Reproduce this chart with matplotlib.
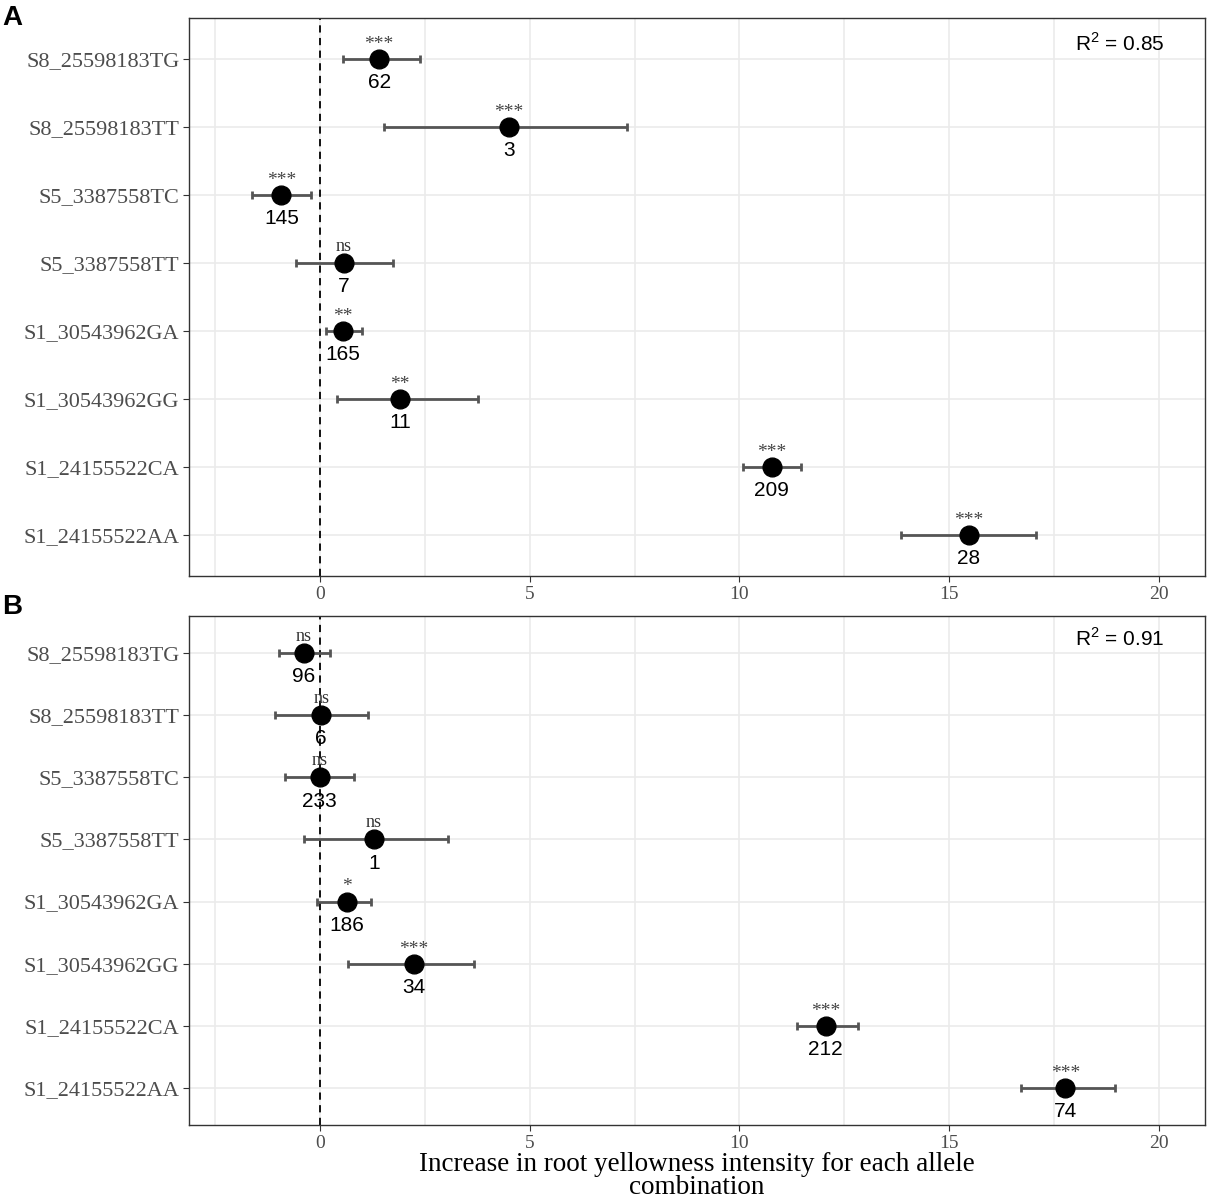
import matplotlib.pyplot as plt
from matplotlib.ticker import MultipleLocator

# datos
snps = ['S8_25598183TG', 'S8_25598183TT', 'S5_3387558TC', 'S5_3387558TT',
        'S1_30543962GA', 'S1_30543962GG', 'S1_24155522CA', 'S1_24155522AA']

est_a = [1.41, 4.51, -0.92, 0.57, 0.55, 1.91, 10.77, 15.47]
low_a = [0.54, 1.52, -1.63, -0.56, 0.14, 0.40, 10.08, 13.85]
high_a = [2.38, 7.32, -0.22, 1.74, 1.00, 3.77, 11.47, 17.07]
sig_a = ['***', '***', '***', 'ns', '**', '**', '***', '***']
n_a = [62, 3, 145, 7, 165, 11, 209, 28]

est_b = [-0.38, 0.03, -0.01, 1.29, 0.64, 2.24, 12.06, 17.77]
low_b = [-0.98, -1.06, -0.84, -0.38, -0.07, 0.67, 11.37, 16.71]
high_b = [0.24, 1.15, 0.82, 3.06, 1.22, 3.67, 12.82, 18.96]
sig_b = ['ns', 'ns', 'ns', 'ns', '*', '***', '***', '***']
n_b = [96, 6, 233, 1, 186, 34, 212, 74]

r2 = ['0.85', '0.91']

serif = 'Liberation Serif'
sans = 'Liberation Sans'

plt.rcParams['mathtext.fontset'] = 'custom'
plt.rcParams['mathtext.rm'] = sans

fig = plt.figure(figsize=(12.08, 11.98), dpi=100)
ax_a = fig.add_axes([0.1565, 0.5192, 0.841, 0.4658])
ax_b = fig.add_axes([0.1565, 0.0609, 0.841, 0.4249])


def panel(ax, est, low, high, sig, n, r2txt):
    y = list(range(len(snps)))
    xerr = [[e - l for e, l in zip(est, low)], [h - e for e, h in zip(est, high)]]
    ax.errorbar(est, y, xerr=xerr, fmt='o', color='black', ms=13.5,
                ecolor='#555555', elinewidth=2.0, capsize=3, capthick=2.0,
                zorder=3)
    ax.axvline(0, color='black', ls=(0, (4, 3)), lw=1.3, zorder=2)
    for xi, yi, s, k in zip(est, y, sig, n):
        if s == 'ns':
            ax.annotate(s, (xi, yi), xytext=(0, 12), textcoords='offset points',
                        ha='center', va='center', fontsize=13, family=serif,
                        color='#333333')
        else:
            ax.annotate(s, (xi, yi), xytext=(0, 10.5), textcoords='offset points',
                        ha='center', va='center', fontsize=14, family=serif,
                        color='#444444')
        ax.annotate(str(k), (xi, yi), xytext=(0, -17), textcoords='offset points',
                    ha='center', va='center', fontsize=15, family=sans,
                    color='black')
    ax.set_xlim(-3.12, 21.1)
    ax.set_ylim(len(snps) - 0.4, -0.6)
    ax.set_yticks(y)
    ax.set_yticklabels(snps, family=serif, fontsize=16, color='#4d4d4d')
    ax.xaxis.set_major_locator(MultipleLocator(5))
    ax.xaxis.set_minor_locator(MultipleLocator(2.5))
    for lab in ax.get_xticklabels():
        lab.set_family(serif)
        lab.set_fontsize(14)
        lab.set_color('#4d4d4d')
    ax.tick_params(axis='both', length=4, color='#333333', width=0.8, pad=3)
    ax.tick_params(axis='x', which='minor', length=0)
    ax.grid(True, which='both', color='#ebebeb', lw=1.2, zorder=0)
    ax.set_axisbelow(True)
    for sp in ax.spines.values():
        sp.set_color('#333333')
        sp.set_linewidth(1.0)
    ax.text(0.96, 0.955, r'R$^2$ = ' + r2txt, transform=ax.transAxes,
            ha='right', va='center', fontsize=15, family=sans)


panel(ax_a, est_a, low_a, high_a, sig_a, n_a, r2[0])
panel(ax_b, est_b, low_b, high_b, sig_b, n_b, r2[1])

ax_b.set_xlabel('Increase in root yellowness intensity for each allele\ncombination',
                family=serif, fontsize=19.5, linespacing=0.92, labelpad=0)

fig.text(0.002, 0.985, 'A', fontsize=20, fontweight='bold', family=sans,
         va='center', ha='left')
fig.text(0.002, 0.493, 'B', fontsize=20, fontweight='bold', family=sans,
         va='center', ha='left')

fig.savefig('out.png', dpi=100)
